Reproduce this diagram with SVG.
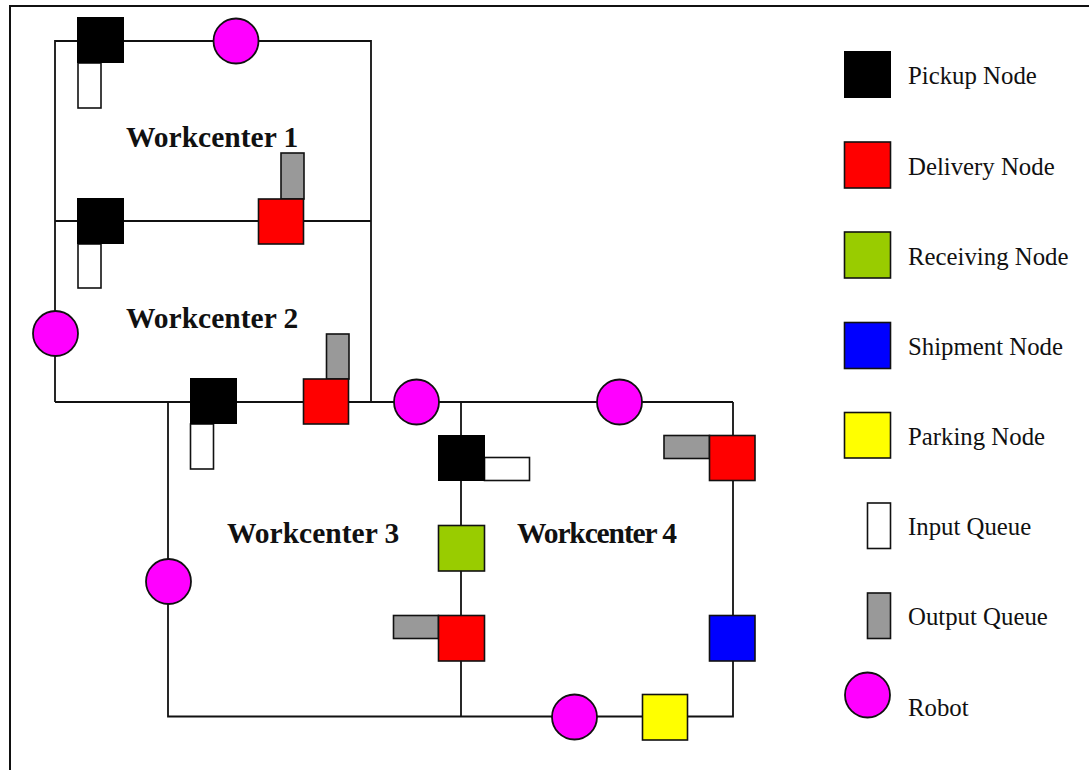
<svg xmlns="http://www.w3.org/2000/svg" width="1089" height="770" viewBox="0 0 1089 770">
  <style>
    .wire { fill: none; stroke: #111; stroke-width: 1.8; }
    .node { stroke: #111; stroke-width: 1.6; }
    .pickup { fill: #000; }
    .delivery { fill: #ff0000; }
    .receiving { fill: #99cc00; }
    .shipment { fill: #0000ff; }
    .parking { fill: #ffff00; }
    .inq { fill: #fff; stroke: #111; stroke-width: 1.6; }
    .outq { fill: #999; stroke: #111; stroke-width: 1.6; }
    .robot { fill: #ff00ff; stroke: #111; stroke-width: 1.8; }
    .wc { font-family: "Liberation Serif", "Times New Roman", serif; font-weight: bold; font-size: 29.5px; fill: #111; }
    .lg { font-family: "Liberation Serif", "Times New Roman", serif; font-size: 24.8px; fill: #111; }
  </style>

  <!-- frame -->
  <rect x="10" y="6" width="1100" height="800" fill="#fff" stroke="#111" stroke-width="2"/>

  <!-- track layout -->
  <g id="connectors">
    <polyline class="wire" points="55,402 55,41 371,41 371,402"/>
    <line class="wire" x1="55" y1="221" x2="371" y2="221"/>
    <line class="wire" x1="55" y1="402" x2="733" y2="402"/>
    <polyline class="wire" points="168,402 168,716.5 733,716.5 733,402"/>
    <line class="wire" x1="461" y1="402" x2="461" y2="716.5"/>
  </g>

  <!-- workcenter labels -->
  <g id="labels">
    <text class="wc" x="126" y="147">Workcenter 1</text>
    <text class="wc" x="126" y="328">Workcenter 2</text>
    <text class="wc" x="227" y="543">Workcenter 3</text>
    <text class="wc" x="517" y="543" textLength="160" lengthAdjust="spacing">Workcenter 4</text>
  </g>

  <!-- workcenter 1 -->
  <g id="wc1-pickup">
    <rect class="inq" x="78" y="63" width="23" height="45"/>
    <rect class="pickup" x="77" y="17" width="47" height="46"/>
  </g>
  <g id="wc1-delivery">
    <rect class="outq" x="281" y="153" width="23" height="46"/>
    <rect class="node delivery" x="258.5" y="199" width="45" height="45"/>
  </g>

  <!-- workcenter 2 -->
  <g id="wc2-pickup">
    <rect class="inq" x="78" y="244" width="23" height="44"/>
    <rect class="pickup" x="77" y="198" width="47" height="46"/>
  </g>
  <g id="wc2-delivery">
    <rect class="outq" x="326.5" y="334" width="22.5" height="45"/>
    <rect class="node delivery" x="303.5" y="379" width="45" height="45"/>
  </g>

  <!-- workcenter 3 -->
  <g id="wc3-pickup">
    <rect class="inq" x="190.5" y="424" width="23" height="45"/>
    <rect class="pickup" x="190" y="378" width="47" height="46"/>
  </g>
  <g id="wc3-delivery">
    <rect class="outq" x="393.5" y="615.5" width="45" height="23"/>
    <rect class="node delivery" x="438.5" y="615.5" width="46" height="45.5"/>
  </g>
  <g id="wc3-receiving">
    <rect class="node receiving" x="438.5" y="525.5" width="46" height="45.5"/>
  </g>

  <!-- workcenter 4 -->
  <g id="wc4-pickup">
    <rect class="inq" x="484.5" y="457.5" width="45" height="23"/>
    <rect class="pickup" x="438" y="435" width="47" height="46"/>
  </g>
  <g id="wc4-delivery">
    <rect class="outq" x="664" y="435.5" width="45.5" height="23"/>
    <rect class="node delivery" x="709.5" y="435.5" width="45.5" height="45"/>
  </g>
  <g id="wc4-shipment">
    <rect class="node shipment" x="709.5" y="615.5" width="45.5" height="45.5"/>
  </g>
  <g id="wc4-parking">
    <rect class="node parking" x="642.5" y="694.5" width="45" height="45.5"/>
  </g>

  <!-- robots -->
  <g id="robot-1"><circle class="robot" cx="236" cy="41" r="22.5"/></g>
  <g id="robot-2"><circle class="robot" cx="55.5" cy="333.5" r="22.5"/></g>
  <g id="robot-3"><circle class="robot" cx="416.5" cy="402" r="22.5"/></g>
  <g id="robot-4"><circle class="robot" cx="619.5" cy="402" r="22.5"/></g>
  <g id="robot-5"><circle class="robot" cx="168.5" cy="581.5" r="22.5"/></g>
  <g id="robot-6"><circle class="robot" cx="574.5" cy="717" r="22.5"/></g>

  <!-- legend -->
  <g id="legend">
    <rect class="pickup" x="844" y="51" width="47" height="47"/>
    <text class="lg" x="908" y="84">Pickup Node</text>
    <rect class="node delivery" x="844.5" y="142" width="46" height="46"/>
    <text class="lg" x="908" y="175">Delivery Node</text>
    <rect class="node receiving" x="844.5" y="232" width="46" height="46"/>
    <text class="lg" x="908" y="265">Receiving Node</text>
    <rect class="node shipment" x="844.5" y="322.5" width="46" height="46"/>
    <text class="lg" x="908" y="355">Shipment Node</text>
    <rect class="node parking" x="844.5" y="412.5" width="46" height="45.5"/>
    <text class="lg" x="908" y="445">Parking Node</text>
    <rect class="inq" x="867.5" y="503" width="23" height="45.5"/>
    <text class="lg" x="908" y="535">Input Queue</text>
    <rect class="outq" x="867.5" y="593" width="23" height="45.5"/>
    <text class="lg" x="908" y="625">Output Queue</text>
    <circle class="robot" cx="867.5" cy="695" r="22.5"/>
    <text class="lg" x="908" y="715.5">Robot</text>
  </g>
</svg>
